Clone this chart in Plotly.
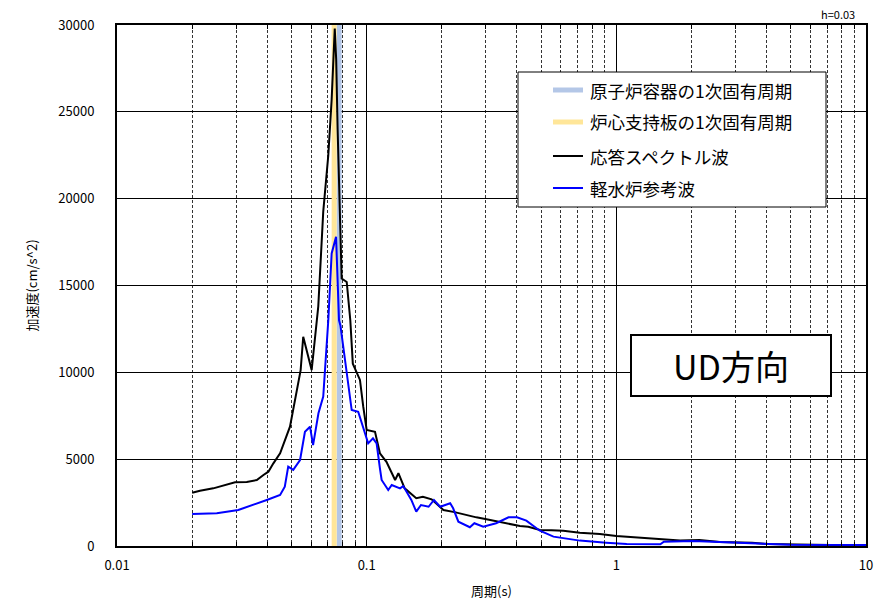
import plotly.graph_objects as go

# ---- data ----
rpv_period = 0.0776        # 原子炉容器の1次固有周期 (s)
csp_period = 0.0741        # 炉心支持板の1次固有周期 (s)
y_max = 30000

resp_T = [0.020, 0.0215, 0.0243, 0.0266, 0.0297, 0.0331, 0.0363, 0.0386, 0.0404, 0.0423,
          0.045, 0.0493, 0.0524, 0.0544,
          0.0557, 0.0571, 0.0602, 0.0640, 0.0650, 0.0670, 0.0702, 0.0724, 0.0745, 0.0755,
          0.0765, 0.0794, 0.0832, 0.0860, 0.0880, 0.0940, 0.0969, 0.100, 0.108, 0.113,
          0.120, 0.130, 0.134, 0.142, 0.158, 0.168, 0.182, 0.190, 0.203, 0.225, 0.251, 0.275,
          0.302, 0.330, 0.363, 0.411, 0.444, 0.494, 0.550, 0.613, 0.714, 0.859, 1.0,
          1.24, 1.54, 1.80, 2.15, 2.60, 3.50, 4.00, 5.30, 7.00, 10.0]
resp_A = [3070, 3180, 3320, 3470, 3670, 3680, 3800, 4090, 4280, 4760,
          5340, 6870, 8790, 10130,
          12050, 11470, 10130, 13800, 15700, 19250, 22500, 25700, 29800, 28000,
          24000, 15400, 15200, 13000, 10500, 9560, 8020, 6680, 6580, 5340,
          4850, 3800, 4190, 3320, 2750, 2840, 2690, 2460, 2070, 1950, 1780, 1650,
          1540, 1420, 1310, 1150, 1110, 920, 900, 880, 770, 690, 580,
          480, 370, 310, 350, 230, 190, 120, 80, 50, 30]

ref_T = [0.020, 0.0251, 0.0306, 0.0352, 0.0398, 0.045, 0.047, 0.0485, 0.0508, 0.0541, 0.0566,
         0.0593, 0.061, 0.0641, 0.067, 0.0702, 0.0724, 0.0754, 0.0775, 0.0785, 0.0844,
         0.0871, 0.0925, 0.0984, 0.1014, 0.106, 0.1096, 0.113, 0.1148, 0.122, 0.126,
         0.136, 0.140, 0.1445, 0.151, 0.158, 0.165, 0.177, 0.186, 0.197, 0.216, 0.222,
         0.233, 0.259, 0.270, 0.293, 0.330, 0.370, 0.400, 0.436, 0.494, 0.560, 0.714,
         0.910, 1.10, 1.50, 1.55, 2.03, 2.60, 3.50, 5.00, 10.0]
ref_A = [1840, 1880, 2070, 2360, 2650, 2940, 3410, 4570, 4380, 4950, 6580,
         6870, 5810, 7640, 8600, 13000, 16850, 17800, 13000, 12700, 9360,
         7830, 7730, 6490, 5910, 6200, 5910, 4470, 3800, 3220, 3510,
         3320, 3450, 3130, 2650, 1980, 2360, 2260, 2650, 2260, 2460, 2170,
         1400, 1080, 1310, 1110, 1310, 1650, 1650, 1460, 880, 540, 310,
         190, 120, 100, 250, 290, 230, 120, 70, 60]

series_names = ["原子炉容器の1次固有周期", "炉心支持板の1次固有周期", "応答スペクトル波", "軽水炉参考波"]
series_colors = ["#B4C7E7", "#FFE699", "black", "#0000FF"]
series_widths = [5, 5, 2, 2]

y_tick_vals = [0, 5000, 10000, 15000, 20000, 25000, 30000]
y_tick_text = ["0", "5000", "10000", "15000", "20000", "25000", "30000"]
x_tick_vals = [0.01, 0.1, 1, 10]
x_tick_text = ["0.01", "0.1", "1", "10"]
x_minor_vals = [m * 10.0 ** e for e in (-2, -1, 0) for m in range(2, 10)]

FONT = "Noto Sans CJK JP"

fig = go.Figure()
fig.add_trace(go.Scatter(x=[rpv_period, rpv_period], y=[0, y_max], mode="lines",
                         line=dict(color=series_colors[0], width=series_widths[0]),
                         name=series_names[0], showlegend=False))
fig.add_trace(go.Scatter(x=[csp_period, csp_period], y=[0, y_max], mode="lines",
                         line=dict(color=series_colors[1], width=series_widths[1]),
                         name=series_names[1], showlegend=False))
fig.add_trace(go.Scatter(x=resp_T, y=resp_A, mode="lines",
                         line=dict(color=series_colors[2], width=series_widths[2]),
                         name=series_names[2], showlegend=False))
fig.add_trace(go.Scatter(x=ref_T, y=ref_A, mode="lines",
                         line=dict(color=series_colors[3], width=series_widths[3]),
                         name=series_names[3], showlegend=False))

# plot-area pixel helpers for the legend box
L, R, T, B = 117, 866, 25, 546
def px(xp):
    return (xp - L) / (R - L)
def py(yp):
    return (B - yp) / (B - T)

shapes = [dict(type="rect", xref="paper", yref="paper",
               x0=px(518), x1=px(826), y0=py(207), y1=py(72),
               line=dict(color="black", width=1), fillcolor="white", layer="above")]
annotations = []
row_y = [90, 122, 156, 188]
for name, col, w, ry in zip(series_names, series_colors, series_widths, row_y):
    shapes.append(dict(type="line", xref="paper", yref="paper",
                       x0=px(553), x1=px(583), y0=py(ry), y1=py(ry),
                       line=dict(color=col, width=w), layer="above"))
    annotations.append(dict(text=name, xref="paper", yref="paper", x=px(588), y=py(ry),
                            xanchor="left", yanchor="middle", showarrow=False,
                            font=dict(size=17.5, family=FONT, color="black")))

annotations += [
    dict(text="UD方向", xref="paper", yref="paper", x=0.8195, y=0.346,
         xanchor="center", yanchor="middle", showarrow=False,
         font=dict(size=34, family=FONT, color="black"),
         bgcolor="white", bordercolor="black", borderwidth=2,
         width=198, height=59, borderpad=0),
    dict(text="h=0.03", xref="paper", yref="paper", x=0.988, y=1.021,
         xanchor="right", yanchor="middle", showarrow=False,
         font=dict(size=11, family=FONT, color="black")),
]

fig.update_layout(
    width=888, height=612,
    margin=dict(l=L, r=888 - R, t=T, b=612 - B, autoexpand=False),
    paper_bgcolor="white", plot_bgcolor="white",
    font=dict(family=FONT, size=13, color="black"),
    showlegend=False,
    shapes=shapes,
    annotations=annotations,
)

fig.update_xaxes(
    type="log", range=[-2, 1],
    tickvals=x_tick_vals, ticktext=x_tick_text,
    ticks="inside", ticklen=5, tickcolor="black",
    showline=True, linecolor="black", linewidth=2, mirror="ticks",
    showgrid=True, gridcolor="black", gridwidth=1,
    minor=dict(tickvals=x_minor_vals, ticks="inside", ticklen=4, tickcolor="black",
               showgrid=True, gridcolor="#333333", gridwidth=1, griddash="3px,2px"),
    ticklabelstandoff=6,
    title=dict(text="周期(s)", font=dict(size=13, family=FONT), standoff=14),
    tickfont=dict(size=13, family=FONT),
    zeroline=False,
)
fig.update_yaxes(
    range=[0, y_max], tickvals=y_tick_vals, ticktext=y_tick_text,
    ticks="inside", ticklen=5, tickcolor="black",
    showline=True, linecolor="black", linewidth=2, mirror="ticks",
    showgrid=True, gridcolor="black", gridwidth=1,
    ticklabelstandoff=18,
    title=dict(text="加速度(cm/s^2)", font=dict(size=13, family=FONT), standoff=18),
    tickfont=dict(size=13, family=FONT),
    zeroline=False,
)

fig.write_html("out.html", config={"displayModeBar": False},
               post_script="document.body.style.margin='0';")
